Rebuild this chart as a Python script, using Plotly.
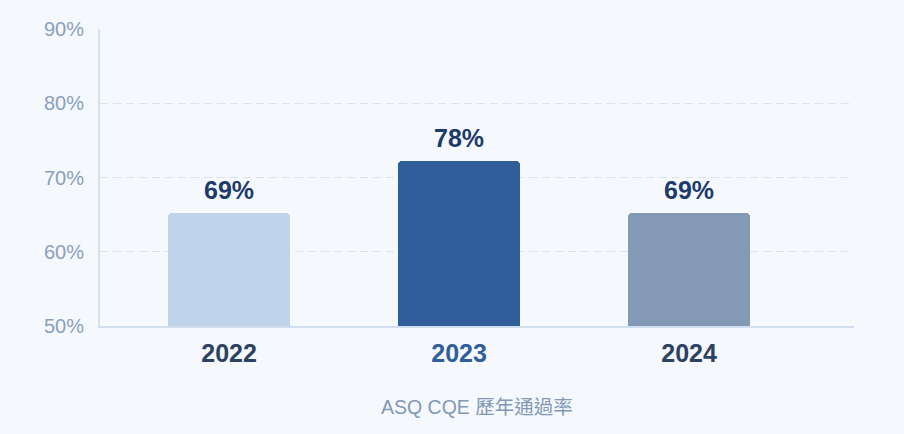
import plotly.graph_objects as go

# values as drawn (bar heights) and the labels printed above them
years = ["2022", "2023", "2024"]
bar_heights = [65.2, 72.2, 65.2]
bar_labels = ["69%", "78%", "69%"]
bar_colors = ["#bfd3eb", "#2f5e9a", "#8399b5"]
tick_colors = ["#2c4263", "#2f5e9a", "#2c4263"]
y_ticks = [50, 60, 70, 80, 90]
y_tick_labels = ["50%", "60%", "70%", "80%", "90%"]
title_text = "ASQ CQE 歷年通過率"

FONT = "Liberation Sans, Noto Sans CJK TC, sans-serif"
BG = "#f5f8fd"

fig = go.Figure()
fig.add_trace(go.Bar(
    x=years,
    y=bar_heights,
    base=0,
    width=0.53,
    marker=dict(color=bar_colors, cornerradius=4, line=dict(width=0)),
    hoverinfo="skip",
))

# value labels above the bars (x by category index, "2022" would be read as a number)
for i, (h, lab) in enumerate(zip(bar_heights, bar_labels)):
    fig.add_annotation(
        x=i, y=h, text=f"<b>{lab}</b>", showarrow=False,
        yanchor="middle", yshift=23,
        font=dict(family=FONT, size=25, color="#1d3a6b"),
    )

# caption under the chart
fig.add_annotation(
    x=0.5, y=0, xref="paper", yref="paper", text=title_text,
    showarrow=False, yanchor="middle", yshift=-81,
    font=dict(family=FONT, size=19.5, color="#8298b6"),
)

fig.update_layout(
    width=904, height=434,
    margin=dict(l=100, r=50, t=29, b=108),
    paper_bgcolor=BG, plot_bgcolor=BG,
    showlegend=False,
    bargap=0,
    font=dict(family=FONT),
)
fig.update_xaxes(
    type="category",
    range=[-0.561, 2.717],
    tickvals=years,
    ticktext=[f"<span style='color:{c}'><b>{y}</b></span>" for y, c in zip(years, tick_colors)],
    tickfont=dict(family=FONT, size=25, color="#2c4263"),
    showgrid=False,
    showline=True, linecolor="#d0def0", linewidth=2,
    ticks="", ticklabelstandoff=4,
)
fig.update_yaxes(
    range=[50, 90],
    tickvals=y_ticks,
    ticktext=y_tick_labels,
    tickfont=dict(family=FONT, size=20, color="#8aa0bd"),
    showgrid=True, gridcolor="#d9e3f0", griddash="8px,5px", gridwidth=1,
    showline=True, linecolor="#d6e2f0", linewidth=2,
    zeroline=False,
    ticks="", ticklabelstandoff=10,
)

fig.write_html("out.html", config={"displayModeBar": False},
               post_script="document.body.style.margin='0';")
